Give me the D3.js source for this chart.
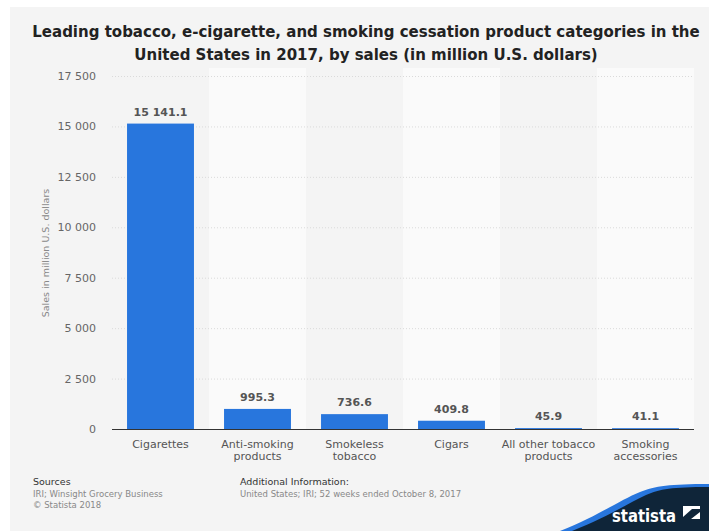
<!DOCTYPE html>
<html><head><meta charset="utf-8">
<script src="https://cdn.jsdelivr.net/npm/d3@7"></script>
<style>body{margin:0;background:#fff}svg{display:block}text{font-family:"DejaVu Sans",sans-serif}</style>
</head><body>
<svg id="c" width="709" height="531"></svg>
<script>
const categories = ["Cigarettes","Anti-smoking products","Smokeless tobacco","Cigars","All other tobacco products","Smoking accessories"];
const categoryLines = [["Cigarettes"],["Anti-smoking","products"],["Smokeless","tobacco"],["Cigars"],["All other tobacco","products"],["Smoking","accessories"]];
const sales = [15141.1, 995.3, 736.6, 409.8, 45.9, 41.1];
const valueLabels = ["15 141.1","995.3","736.6","409.8","45.9","41.1"];
const yTicks = [0,2500,5000,7500,10000,12500,15000,17500];

const svg = d3.select("#c");
svg.append("rect").attr("x",10).attr("y",7).attr("width",699).attr("height",524).attr("fill","#f4f4f4");

const x = d3.scaleBand().domain(categories).range([112,694]).paddingInner(0.31).paddingOuter(0.155);
const xb = d3.scaleBand().domain(categories).range([112,694]);
const y = d3.scaleLinear().domain([0,17500]).range([429,76]);

// alternating band backgrounds
svg.selectAll("rect.band").data(categories).enter().append("rect")
  .attr("x",d=>xb(d)).attr("y",68).attr("width",xb.bandwidth()).attr("height",429-68)
  .attr("fill",(d,i)=>i%2?"#fafafa":"#f4f4f4");

// gridlines
svg.selectAll("line.grid").data(yTicks.slice(1)).enter().append("line")
  .attr("x1",112).attr("x2",694).attr("y1",d=>y(d)+0.5).attr("y2",d=>y(d)+0.5)
  .attr("stroke","#dadada").attr("stroke-dasharray","1,2").attr("stroke-width",1);

// y axis labels
const fmt = v => d3.format(",")(v).replace(/,/g," ");
svg.selectAll("text.yt").data(yTicks).enter().append("text")
  .attr("x",96).attr("y",d=>y(d)+4).attr("text-anchor","end")
  .attr("font-size",11).attr("fill","#666").text(fmt);

svg.append("text").attr("transform","translate(49,253) rotate(-90)")
  .attr("text-anchor","middle").attr("font-size",9.5).attr("fill","#888")
  .text("Sales in million U.S. dollars");

// bars
svg.selectAll("rect.bar").data(sales).enter().append("rect")
  .attr("x",(d,i)=>x(categories[i])).attr("width",x.bandwidth())
  .attr("y",d=>y(d)).attr("height",d=>429-y(d)).attr("fill","#2876dd");

// value labels
svg.selectAll("text.vl").data(sales).enter().append("text")
  .attr("x",(d,i)=>x(categories[i])+x.bandwidth()/2).attr("y",d=>y(d)-8)
  .attr("text-anchor","middle").attr("font-size",11).attr("font-weight","bold")
  .attr("fill","#555").text((d,i)=>valueLabels[i]);

// axis line
svg.append("line").attr("x1",112).attr("x2",694).attr("y1",429.5).attr("y2",429.5)
  .attr("stroke","#333").attr("stroke-width",1);

// category labels
categoryLines.forEach((lines,i)=>{
  const t = svg.append("text").attr("text-anchor","middle").attr("font-size",11).attr("fill","#555");
  lines.forEach((l,j)=>t.append("tspan").attr("x",xb(categories[i])+xb.bandwidth()/2).attr("y",448+j*12).text(l));
});

// title
const title = svg.append("text").attr("text-anchor","middle").attr("font-size",15).attr("font-weight","bold").attr("fill","#222");
title.append("tspan").attr("x",366).attr("y",37).text("Leading tobacco, e-cigarette, and smoking cessation product categories in the");
title.append("tspan").attr("x",366).attr("y",60).text("United States in 2017, by sales (in million U.S. dollars)");

// footer
svg.append("text").attr("x",33).attr("y",485).attr("font-size",9.5).attr("fill","#333").text("Sources");
svg.append("text").attr("x",33).attr("y",497).attr("font-size",8.5).attr("fill","#888").text("IRI; Winsight Grocery Business");
svg.append("text").attr("x",33).attr("y",508).attr("font-size",8.5).attr("fill","#888").text("© Statista 2018");
svg.append("text").attr("x",240).attr("y",485).attr("font-size",9.5).attr("fill","#333").text("Additional Information:");
svg.append("text").attr("x",240).attr("y",497).attr("font-size",8.5).attr("fill","#888").text("United States; IRI; 52 weeks ended October 8, 2017");

// logo
svg.append("path").attr("d","M560,531 C600,515 620,500 640,492 C655,486 670,484 709,484 L709,531 Z").attr("fill","#2876dd");
svg.append("path").attr("d","M572,531 C610,516 628,503 646,495 C660,489 672,487 709,487 L709,531 Z").attr("fill","#0f2539");
svg.append("text").attr("x",612).attr("y",522).attr("font-size",18).attr("font-weight","bold").attr("fill","#fff")
  .attr("textLength",64).attr("lengthAdjust","spacingAndGlyphs").text("statista");
const lg = svg.append("g").attr("transform","translate(683,506)");
lg.append("rect").attr("width",17).attr("height",16).attr("fill","#fff");
lg.append("path").attr("d","M0,11 L9,3 L17,3 L17,6 L8,13 L17,13 L17,16 L0,16 Z").attr("fill","#0f2539");
</script>
</body></html>
